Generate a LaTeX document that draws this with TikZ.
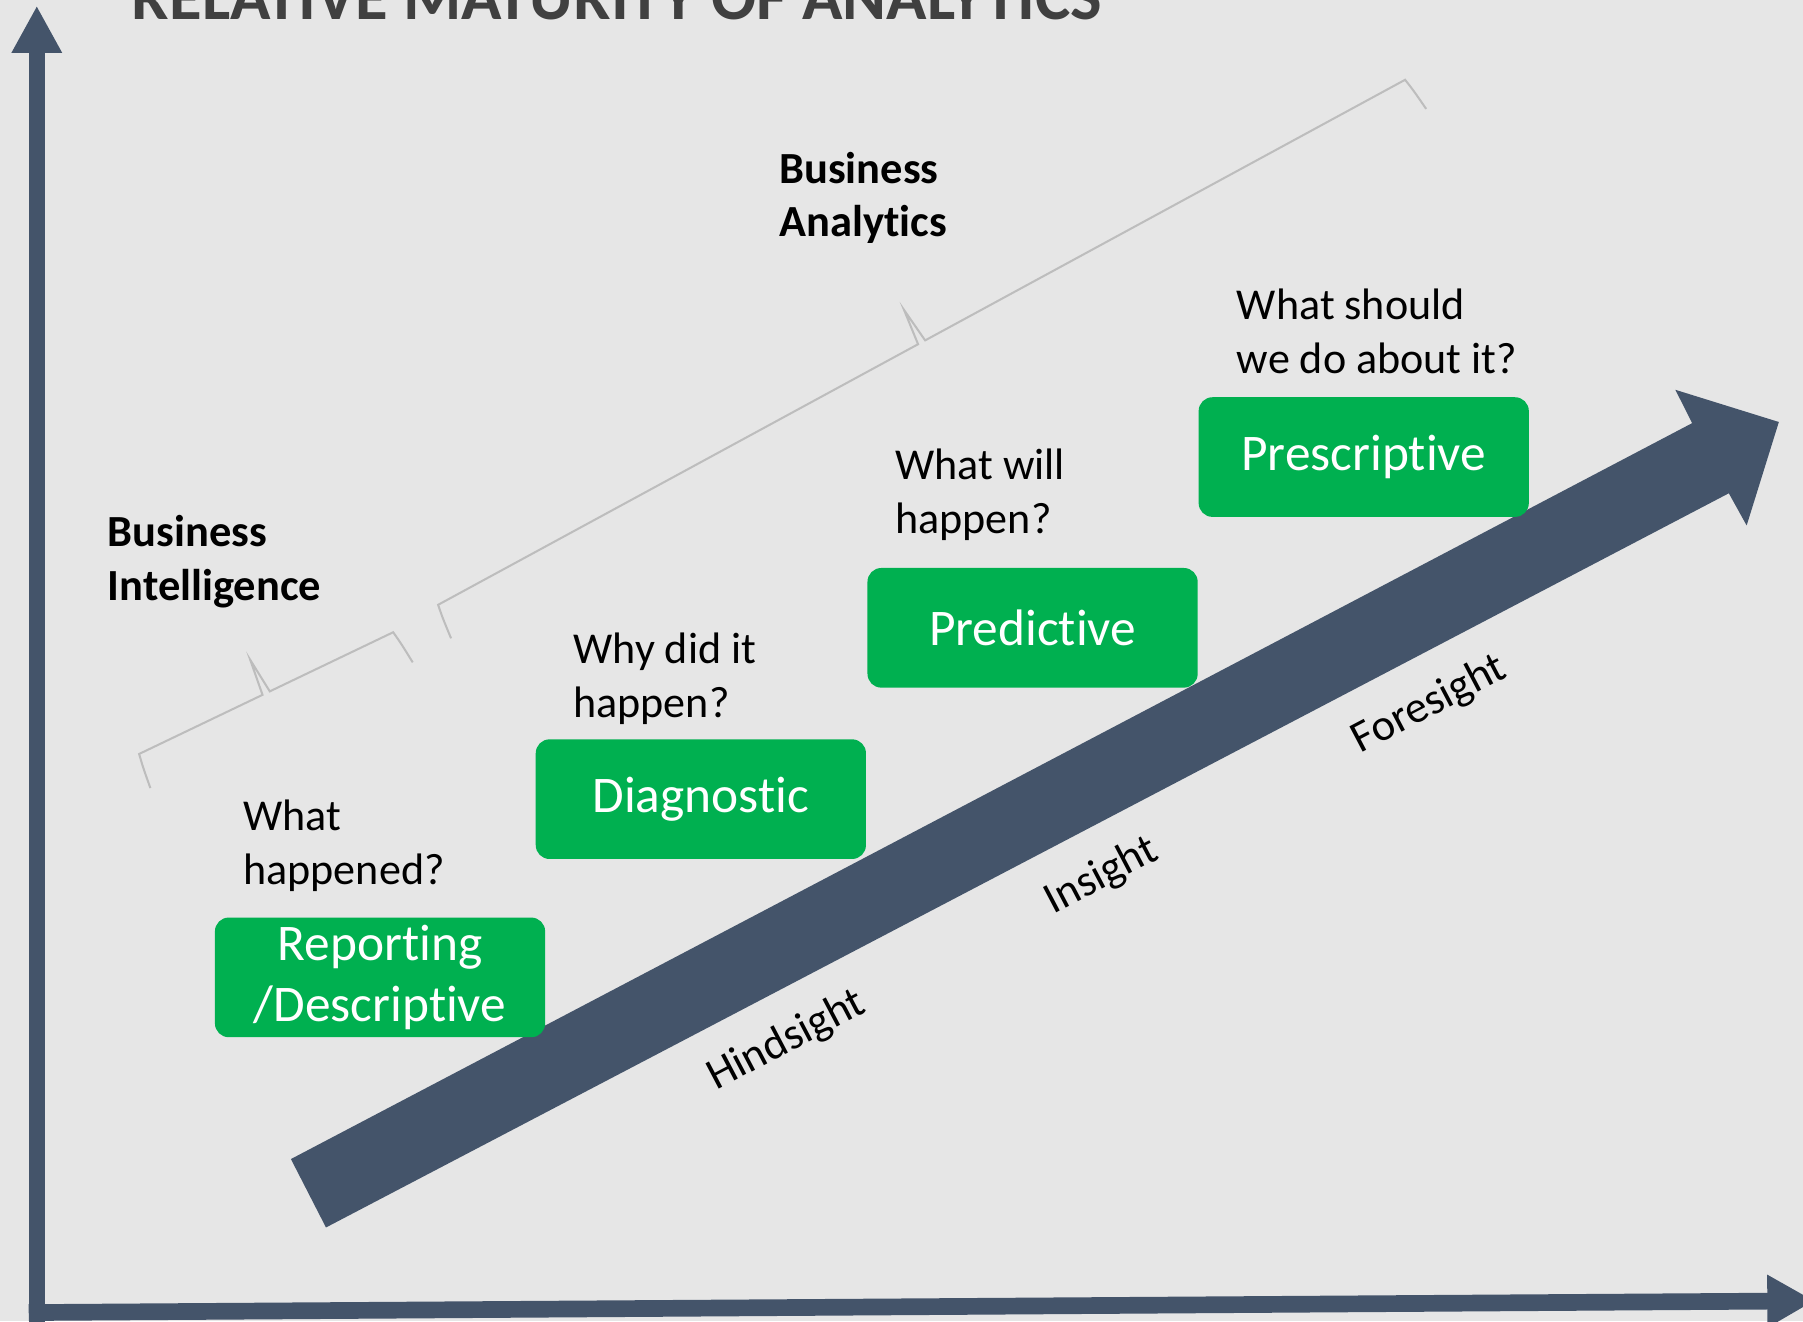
\documentclass[tikz,border=0pt]{standalone}
\usepackage{fontspec}
\setmainfont{Carlito}[Ligatures={TeX,NoCommon}]
\usetikzlibrary{arrows.meta}
\definecolor{slate}{HTML}{44546A}
\definecolor{stagegreen}{HTML}{00B050}
\definecolor{panelgray}{HTML}{E6E6E6}
\definecolor{titlegray}{HTML}{404040}
\definecolor{bracketgray}{HTML}{BDBDBD}

\begin{document}
\begin{tikzpicture}[x=0.01cm, y=-0.01cm,
    stagebox/.style={fill=stagegreen, text=white, rounded corners=0.12cm, minimum width=2.87cm,
        minimum height=1.04cm, align=center, inner sep=0pt, font=\fontsize{12.7}{15.1}\selectfont},
    question/.style={anchor=base west, align=left, inner sep=0pt, font=\fontsize{10.9}{13.4}\selectfont},
    tier/.style={anchor=base west, align=left, inner sep=0pt, font=\fontsize{11}{13.2}\selectfont\bfseries},
    sight/.style={rotate=27.7, inner sep=0pt, font=\fontsize{11}{13.4}\selectfont},
    bracket/.style={draw=bracketgray, line width=0.5pt},
    axis/.style={draw=slate, line width=0.135cm}]

    \clip (0,0) rectangle (1568,1149);
    \fill[panelgray] (0,0) rectangle (1568,1149);

    % Titel
    \node[anchor=base west, inner sep=0pt, text=titlegray, font=\fontsize{16.5}{19}\selectfont\bfseries]
        (title) at (114,17) {RELATIVE MATURITY OF ANALYTICS};

    % Achsen
    \draw[axis, -{Triangle[length=0.41cm, width=0.41cm]}] (32,1160) -- (32,5);
    \draw[axis, line width=0.145cm, -{Triangle[length=0.41cm, width=0.43cm]}] (25,1141.5) -- (1578,1131.3);

    % Pfeil
    \fill[slate] (253,1008) -- (1471.6,368) -- (1457,339) -- (1547,367) -- (1519,457)
        -- (1503.5,429) -- (283.5,1067.5) -- cycle;
    \foreach \name/\x/\y in {Hindsight/684/905, Insight/958/762, Foresight/1243/613} {
        \node[sight] (\name) at (\x,\y) {\name};
    }

    % Klammern
    \foreach \bx/\by/\ang/\len in {121/655.7/25.6/245, 381/526/28.5/957} {
        \begin{scope}[shift={(\bx,\by)}, rotate=\ang]
            \draw[bracket] (-4,31) .. controls (-2,12) .. (0,0) -- (\len/2-3.5,0) -- (\len/2,-32)
                -- (\len/2+3.5,0) -- (\len,0) .. controls (\len+2,12) .. (\len+4,31);
        \end{scope}
    }
    \node[tier] (bi) at (93,522) {Business\\Intelligence};
    \node[tier] (ba) at (677,206) {Business\\Analytics};

    % Stufen
    \foreach \name/\x/\y/\txt in {desc/330.5/850/{Reporting\\/Descriptive}, diag/609.5/695/Diagnostic,
        pred/898/546/Predictive, presc/1186/397.5/Prescriptive} {
        \node[stagebox] (\name) at (\x,\y) {\txt};
    }
    \foreach \name/\x/\y/\txt in {qdesc/211/769/{What\\happened?}, qdiag/498/624/{Why did it\\happen?},
        qpred/778/464/{What will\\happen?}, qpresc/1075/325/{What should\\we do about it?}} {
        \node[question] (\name) at (\x,\y) {\txt};
    }
\end{tikzpicture}
\end{document}
